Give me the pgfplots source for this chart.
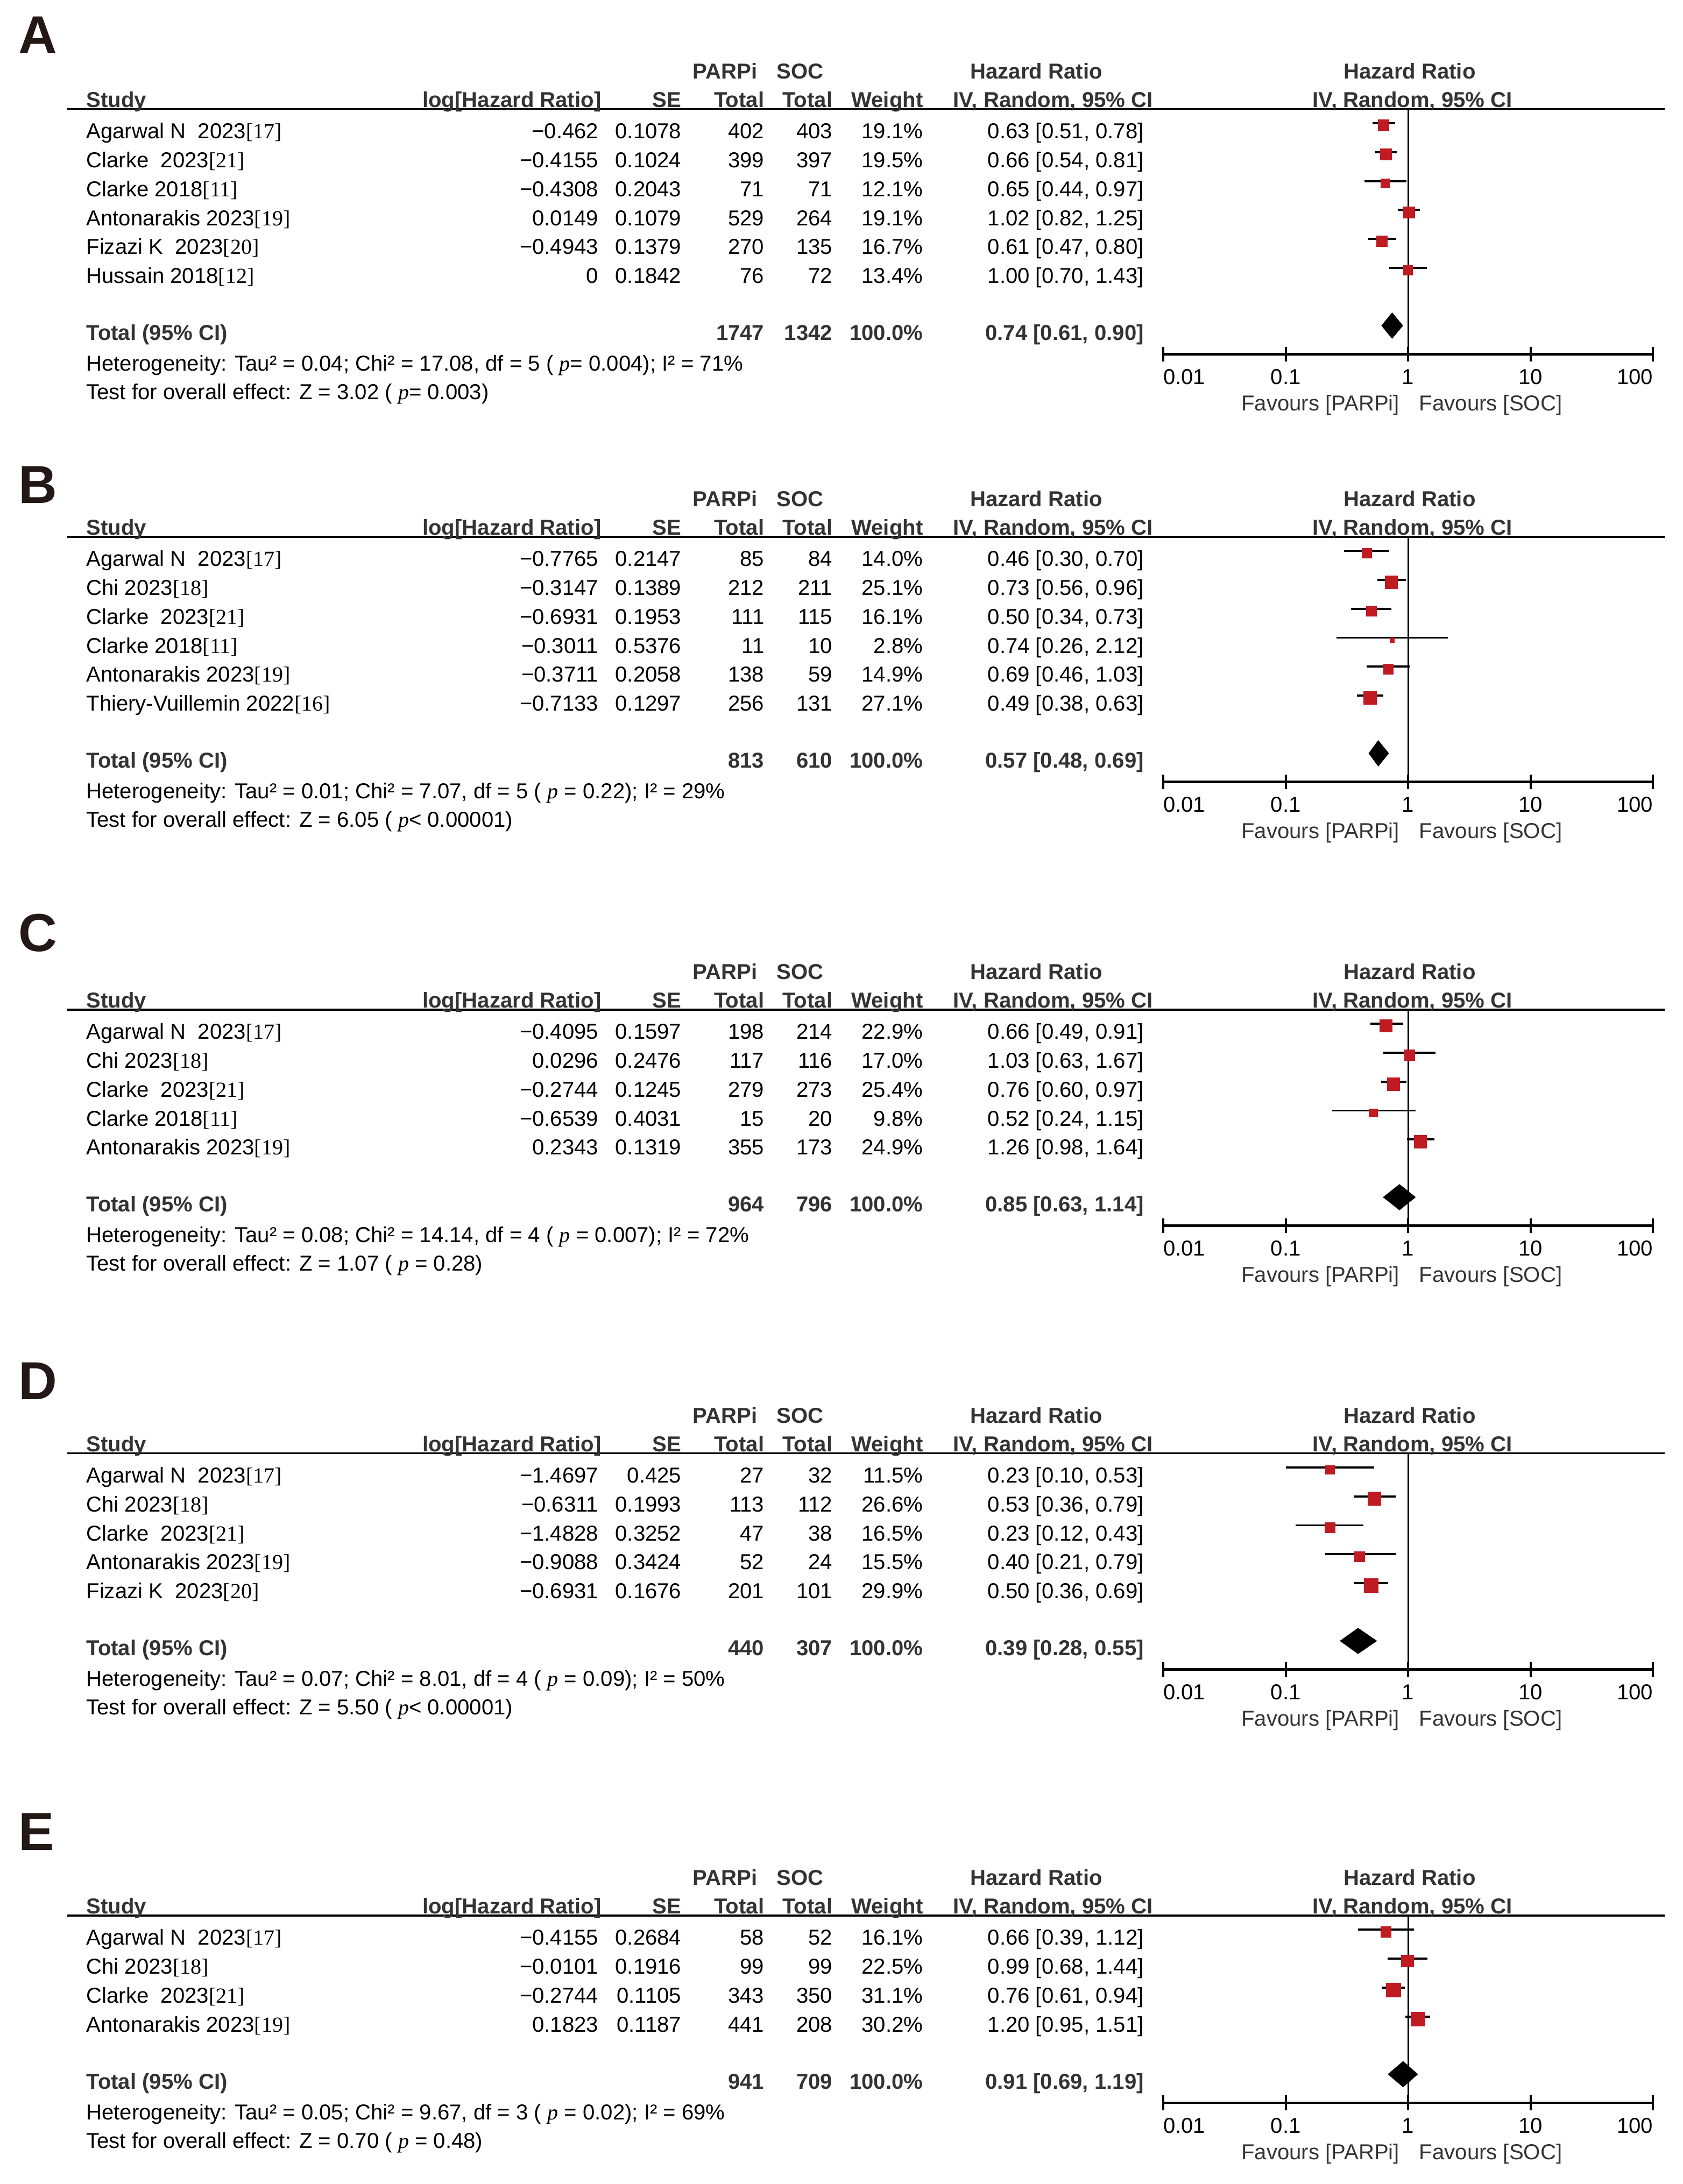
\documentclass[border=0pt]{standalone}
\usepackage{fontspec}
\setmainfont{Liberation Sans}
\newfontfamily\tnr{Liberation Serif}
\usepackage{pgfplots}
\usepackage{pgfplotstable}
\pgfplotsset{compat=1.18}

\definecolor{sqred}{RGB}{192,26,34}
\definecolor{hdr}{RGB}{51,51,51}
\definecolor{lettercol}{RGB}{35,24,21}

\newcommand\fsz{\fontsize{7.75bp}{9bp}\selectfont}
\newcommand\rf[1]{{\tnr[#1]}}
\newcommand\pit{{\tnr\itshape p}}

% forest rows: y = layout offset below the header rule, hr, CI, weight (%)
\pgfplotstableread{
y hr lo hi w
-10.1 0.63 0.51 0.78 19.1
-30.9 0.66 0.54 0.81 19.5
-51.7 0.65 0.44 0.97 12.1
-72.5 1.02 0.82 1.25 19.1
-93.3 0.61 0.47 0.80 16.7
-114.1 1.00 0.70 1.43 13.4
}\dataA
\pgfplotstableread{
y hr lo hi w
-10.1 0.46 0.30 0.70 14.0
-30.9 0.73 0.56 0.96 25.1
-51.7 0.50 0.34 0.73 16.1
-72.5 0.74 0.26 2.12 2.8
-93.3 0.69 0.46 1.03 14.9
-114.1 0.49 0.38 0.63 27.1
}\dataB
\pgfplotstableread{
y hr lo hi w
-10.1 0.66 0.49 0.91 22.9
-30.9 1.03 0.63 1.67 17.0
-51.7 0.76 0.60 0.97 25.4
-72.5 0.52 0.24 1.15 9.8
-93.3 1.26 0.98 1.64 24.9
}\dataC
\pgfplotstableread{
y hr lo hi w
-10.1 0.23 0.10 0.53 11.5
-30.9 0.53 0.36 0.79 26.6
-51.7 0.23 0.12 0.43 16.5
-72.5 0.40 0.21 0.79 15.5
-93.3 0.50 0.36 0.69 29.9
}\dataD
\pgfplotstableread{
y hr lo hi w
-10.1 0.66 0.39 1.12 16.1
-30.9 0.99 0.68 1.44 22.5
-51.7 0.76 0.61 0.94 31.1
-72.5 1.20 0.95 1.51 30.2
}\dataE

\pgfplotsset{
  forestaxis/.style={
    anchor=south west, scale only axis, width=175.75bp,
    xmin=0.01, xmax=100, ymax=0,
    axis x line*=bottom, axis y line=none,
    axis line style={-, line width=0.83bp},
    xtick={0.01,0.1,1,10,100},
    xticklabels={\makebox[0pt][l]{0.01},0.1,1,10,\makebox[0pt][r]{100}},
    xminorticks=false,
    tick align=center, major tick length=5.3bp,
    tick style={line width=0.75bp, black},
    xticklabel style={anchor=base, yshift=-8.2bp, font=\fsz},
    clip=false,
  },
  ci/.style={draw=none, mark=none,
    error bars/x dir=both, error bars/x explicit,
    error bars/error bar style={draw=black, solid, line width=0.75bp},
    error bars/error mark=none},
  sq/.style={scatter, only marks, mark=square*,
    scatter/use mapped color={draw=sqred, fill=sqred},
    visualization depends on={\thisrow{w} \as \wt},
    scatter/@pre marker code/.append style={/tikz/mark size={0.44*sqrt(\wt)}}},
  diam/.style={fill=black, draw=black, line width=0.3bp},
  nullline/.style={line width=0.55bp, black},
}

% header block, drawn relative to the header rule
\newcommand\panelhead{%
  \draw[line width=0.68bp] (48.4,0) -- (1195,0);
  \begin{scope}[every node/.append style={font=\fsz\bfseries, text=hdr}]
    \node[anchor=base] at (520.5,21.85) {PARPi};
    \node[anchor=base] at (574.5,21.85) {SOC};
    \node[anchor=base] at (744,21.85) {Hazard Ratio};
    \node[anchor=base] at (1012,21.85) {Hazard Ratio};
    \node[anchor=base west] at (61.6,1.35) {Study};
    \node[anchor=base east] at (432,1.35) {log[Hazard Ratio]};
    \node[anchor=base east] at (489.5,1.35) {SE};
    \node[anchor=base east] at (549,1.35) {Total};
    \node[anchor=base east] at (598,1.35) {Total};
    \node[anchor=base east] at (663,1.35) {Weight};
    \node[anchor=base east] at (828,1.35) {IV, Random, 95\% CI};
    \node[anchor=base] at (1014,1.35) {IV, Random, 95\% CI};
  \end{scope}}

\newcommand\srow[8]{%
  \node[anchor=base west] at (61.6,{-(0.35+20.8*#1)}) {#2};
  \node[anchor=base east] at (430,{-(0.35+20.8*#1)}) {#3};
  \node[anchor=base east] at (489.5,{-(0.35+20.8*#1)}) {#4};
  \node[anchor=base east] at (549,{-(0.35+20.8*#1)}) {#5};
  \node[anchor=base east] at (598,{-(0.35+20.8*#1)}) {#6};
  \node[anchor=base east] at (663,{-(0.35+20.8*#1)}) {#7};
  \node[anchor=base east] at (821.5,{-(0.35+20.8*#1)}) {#8};}

\newcommand\trow[6]{%
  \begin{scope}[every node/.append style={font=\fsz\bfseries, text=hdr}]
    \node[anchor=base west] at (61.6,{-(41.25+20.8*#1)}) {Total (95\% CI)};
    \node[anchor=base east] at (549,{-(41.25+20.8*#1)}) {#2};
    \node[anchor=base east] at (598,{-(41.25+20.8*#1)}) {#3};
    \node[anchor=base east] at (663,{-(41.25+20.8*#1)}) {100.0\%};
    \node[anchor=base east] at (821.5,{-(41.25+20.8*#1)}) {#4};
  \end{scope}
  \node[anchor=base west] at (61.6,{-(63.25+20.8*#1)}) {#5};
  \node[anchor=base west] at (61.6,{-(83.75+20.8*#1)}) {#6};
  \node[anchor=base east, text=hdr] at (1005,{-(91.85+20.8*#1)}) {Favours [PARPi]};
  \node[anchor=base west, text=hdr] at (1018.5,{-(91.85+20.8*#1)}) {Favours [SOC]};}

\newcommand\plabel[2]{%
  \node[anchor=base west, font=\fontsize{19.2bp}{20bp}\selectfont\bfseries, text=lettercol] at (13,-#2) {#1};}

\begin{document}
\begin{tikzpicture}[x=0.5bp, y=0.5bp, font=\fsz, every node/.style={inner sep=0pt}]
\useasboundingbox (0,0) rectangle (1208.2,-1568.2);

% ---------------- A
\plabel{A}{38.5}
\begin{scope}[shift={(0,-78.3)}]
  \panelhead
  \srow{1}{Agarwal N\ \ 2023\rf{17}}{−0.462}{0.1078}{402}{403}{19.1\%}{0.63 [0.51, 0.78]}
  \srow{2}{Clarke\ \ 2023\rf{21}}{−0.4155}{0.1024}{399}{397}{19.5\%}{0.66 [0.54, 0.81]}
  \srow{3}{Clarke 2018\rf{11}}{−0.4308}{0.2043}{71}{71}{12.1\%}{0.65 [0.44, 0.97]}
  \srow{4}{Antonarakis 2023\rf{19}}{0.0149}{0.1079}{529}{264}{19.1\%}{1.02 [0.82, 1.25]}
  \srow{5}{Fizazi K\ \ 2023\rf{20}}{−0.4943}{0.1379}{270}{135}{16.7\%}{0.61 [0.47, 0.80]}
  \srow{6}{Hussain 2018\rf{12}}{0}{0.1842}{76}{72}{13.4\%}{1.00 [0.70, 1.43]}
  \trow{6}{1747}{1342}{0.74 [0.61, 0.90]}
    {Heterogeneity: Tau² = 0.04; Chi² = 17.08, df = 5 ( \pit= 0.004); I² = 71\%}
    {Test for overall effect: Z = 3.02 ( \pit= 0.003)}
\end{scope}
\begin{semilogxaxis}[forestaxis, at={(417.55bp,-127.15bp)}, height=88bp, ymin=-176]
  \addplot[nullline] coordinates {(1,0) (1,-176)};
  \addplot[ci] table[x=hr, y=y, x error plus expr=\thisrow{hi}-\thisrow{hr}, x error minus expr=\thisrow{hr}-\thisrow{lo}] {\dataA};
  \addplot[sq] table[x=hr, y expr=\thisrow{y}-1.7] {\dataA};
  \addplot[diam] coordinates {(0.61,-155.5) (0.74,-146.5) (0.90,-155.5) (0.74,-164.5)} -- cycle;
\end{semilogxaxis}

% ---------------- B
\plabel{B}{361.5}
\begin{scope}[shift={(0,-385.4)}]
  \panelhead
  \srow{1}{Agarwal N\ \ 2023\rf{17}}{−0.7765}{0.2147}{85}{84}{14.0\%}{0.46 [0.30, 0.70]}
  \srow{2}{Chi 2023\rf{18}}{−0.3147}{0.1389}{212}{211}{25.1\%}{0.73 [0.56, 0.96]}
  \srow{3}{Clarke\ \ 2023\rf{21}}{−0.6931}{0.1953}{111}{115}{16.1\%}{0.50 [0.34, 0.73]}
  \srow{4}{Clarke 2018\rf{11}}{−0.3011}{0.5376}{11}{10}{2.8\%}{0.74 [0.26, 2.12]}
  \srow{5}{Antonarakis 2023\rf{19}}{−0.3711}{0.2058}{138}{59}{14.9\%}{0.69 [0.46, 1.03]}
  \srow{6}{Thiery-Vuillemin 2022\rf{16}}{−0.7133}{0.1297}{256}{131}{27.1\%}{0.49 [0.38, 0.63]}
  \trow{6}{813}{610}{0.57 [0.48, 0.69]}
    {Heterogeneity: Tau² = 0.01; Chi² = 7.07, df = 5 ( \pit\ = 0.22); I² = 29\%}
    {Test for overall effect: Z = 6.05 ( \pit< 0.00001)}
\end{scope}
\begin{semilogxaxis}[forestaxis, at={(417.55bp,-280.7bp)}, height=88bp, ymin=-176]
  \addplot[nullline] coordinates {(1,0) (1,-176)};
  \addplot[ci] table[x=hr, y=y, x error plus expr=\thisrow{hi}-\thisrow{hr}, x error minus expr=\thisrow{hr}-\thisrow{lo}] {\dataB};
  \addplot[sq] table[x=hr, y expr=\thisrow{y}-1.7] {\dataB};
  \addplot[diam] coordinates {(0.48,-155.5) (0.57,-146.5) (0.69,-155.5) (0.57,-164.5)} -- cycle;
\end{semilogxaxis}

% ---------------- C
\plabel{C}{683}
\begin{scope}[shift={(0,-724.9)}]
  \panelhead
  \srow{1}{Agarwal N\ \ 2023\rf{17}}{−0.4095}{0.1597}{198}{214}{22.9\%}{0.66 [0.49, 0.91]}
  \srow{2}{Chi 2023\rf{18}}{0.0296}{0.2476}{117}{116}{17.0\%}{1.03 [0.63, 1.67]}
  \srow{3}{Clarke\ \ 2023\rf{21}}{−0.2744}{0.1245}{279}{273}{25.4\%}{0.76 [0.60, 0.97]}
  \srow{4}{Clarke 2018\rf{11}}{−0.6539}{0.4031}{15}{20}{9.8\%}{0.52 [0.24, 1.15]}
  \srow{5}{Antonarakis 2023\rf{19}}{0.2343}{0.1319}{355}{173}{24.9\%}{1.26 [0.98, 1.64]}
  \trow{5}{964}{796}{0.85 [0.63, 1.14]}
    {Heterogeneity: Tau² = 0.08; Chi² = 14.14, df = 4 ( \pit\ = 0.007); I² = 72\%}
    {Test for overall effect: Z = 1.07 ( \pit\ = 0.28)}
\end{scope}
\begin{semilogxaxis}[forestaxis, at={(417.55bp,-440.05bp)}, height=77.6bp, ymin=-155.2]
  \addplot[nullline] coordinates {(1,0) (1,-155.2)};
  \addplot[ci] table[x=hr, y=y, x error plus expr=\thisrow{hi}-\thisrow{hr}, x error minus expr=\thisrow{hr}-\thisrow{lo}] {\dataC};
  \addplot[sq] table[x=hr, y expr=\thisrow{y}-1.7] {\dataC};
  \addplot[diam] coordinates {(0.63,-134.7) (0.85,-125.7) (1.14,-134.7) (0.85,-143.7)} -- cycle;
\end{semilogxaxis}

% ---------------- D
\plabel{D}{1005}
\begin{scope}[shift={(0,-1043.5)}]
  \panelhead
  \srow{1}{Agarwal N\ \ 2023\rf{17}}{−1.4697}{0.425}{27}{32}{11.5\%}{0.23 [0.10, 0.53]}
  \srow{2}{Chi 2023\rf{18}}{−0.6311}{0.1993}{113}{112}{26.6\%}{0.53 [0.36, 0.79]}
  \srow{3}{Clarke\ \ 2023\rf{21}}{−1.4828}{0.3252}{47}{38}{16.5\%}{0.23 [0.12, 0.43]}
  \srow{4}{Antonarakis 2023\rf{19}}{−0.9088}{0.3424}{52}{24}{15.5\%}{0.40 [0.21, 0.79]}
  \srow{5}{Fizazi K\ \ 2023\rf{20}}{−0.6931}{0.1676}{201}{101}{29.9\%}{0.50 [0.36, 0.69]}
  \trow{5}{440}{307}{0.39 [0.28, 0.55]}
    {Heterogeneity: Tau² = 0.07; Chi² = 8.01, df = 4 ( \pit\ = 0.09); I² = 50\%}
    {Test for overall effect: Z = 5.50 ( \pit< 0.00001)}
\end{scope}
\begin{semilogxaxis}[forestaxis, at={(417.55bp,-599.35bp)}, height=77.6bp, ymin=-155.2]
  \addplot[nullline] coordinates {(1,0) (1,-155.2)};
  \addplot[ci] table[x=hr, y=y, x error plus expr=\thisrow{hi}-\thisrow{hr}, x error minus expr=\thisrow{hr}-\thisrow{lo}] {\dataD};
  \addplot[sq] table[x=hr, y expr=\thisrow{y}-1.7] {\dataD};
  \addplot[diam] coordinates {(0.28,-134.7) (0.39,-125.7) (0.55,-134.7) (0.39,-143.7)} -- cycle;
\end{semilogxaxis}

% ---------------- E
\plabel{E}{1328.4}
\begin{scope}[shift={(0,-1375.4)}]
  \panelhead
  \srow{1}{Agarwal N\ \ 2023\rf{17}}{−0.4155}{0.2684}{58}{52}{16.1\%}{0.66 [0.39, 1.12]}
  \srow{2}{Chi 2023\rf{18}}{−0.0101}{0.1916}{99}{99}{22.5\%}{0.99 [0.68, 1.44]}
  \srow{3}{Clarke\ \ 2023\rf{21}}{−0.2744}{0.1105}{343}{350}{31.1\%}{0.76 [0.61, 0.94]}
  \srow{4}{Antonarakis 2023\rf{19}}{0.1823}{0.1187}{441}{208}{30.2\%}{1.20 [0.95, 1.51]}
  \trow{4}{941}{709}{0.91 [0.69, 1.19]}
    {Heterogeneity: Tau² = 0.05; Chi² = 9.67, df = 3 ( \pit\ = 0.02); I² = 69\%}
    {Test for overall effect: Z = 0.70 ( \pit\ = 0.48)}
\end{scope}
\begin{semilogxaxis}[forestaxis, at={(417.55bp,-754.9bp)}, height=67.2bp, ymin=-134.4]
  \addplot[nullline] coordinates {(1,0) (1,-134.4)};
  \addplot[ci] table[x=hr, y=y, x error plus expr=\thisrow{hi}-\thisrow{hr}, x error minus expr=\thisrow{hr}-\thisrow{lo}] {\dataE};
  \addplot[sq] table[x=hr, y expr=\thisrow{y}-1.7] {\dataE};
  \addplot[diam] coordinates {(0.69,-113.9) (0.91,-104.9) (1.19,-113.9) (0.91,-122.9)} -- cycle;
\end{semilogxaxis}
\end{tikzpicture}
\end{document}
